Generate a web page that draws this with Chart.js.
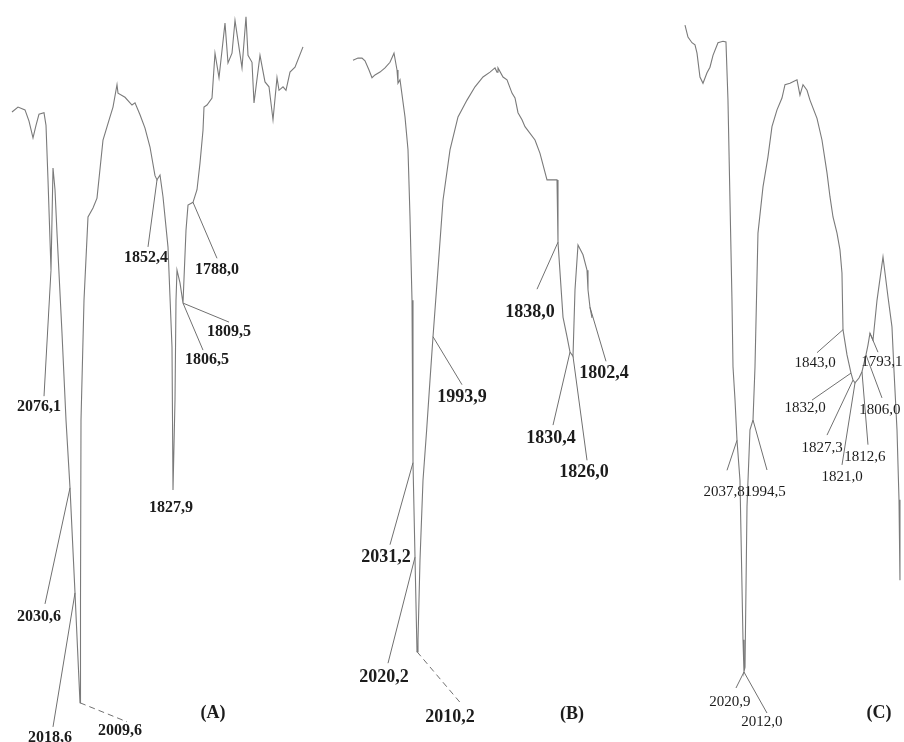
<!DOCTYPE html>
<html>
<head>
<meta charset="utf-8">
<script src="https://cdn.jsdelivr.net/npm/chart.js@4/dist/chart.umd.min.js"></script>
<style>
  body { margin: 0; background: #fff; }
  #wrap { position: relative; width: 904px; height: 742px; overflow: hidden; background: #fff; }
  .panel { position: absolute; top: 0; height: 742px; }
</style>
</head>
<body>
<div id="wrap">
  <div class="panel" style="left:0;width:320px"><canvas id="specA" width="320" height="742"></canvas></div>
  <div class="panel" style="left:320px;width:340px"><canvas id="specB" width="340" height="742"></canvas></div>
  <div class="panel" style="left:660px;width:244px"><canvas id="specC" width="244" height="742"></canvas></div>
</div>
<script>
// IR spectra (A), (B), (C): wavenumber in cm-1 against transmittance in %,
// read off the scanned figure.

const waveA = [2148, 2136, 2122, 2114, 2106, 2100, 2094, 2084, 2080, 2076, 2070, 2066, 2062, 2058, 2048, 2040, 2032, 2022, 2012, 2011,
  2010, 2004, 1996, 1986, 1978, 1966, 1952, 1946, 1938, 1936, 1922, 1908, 1902, 1892, 1882, 1872, 1862, 1858, 1852, 1846,
  1836, 1828, 1826, 1822, 1820, 1818, 1812, 1806, 1800, 1796, 1786, 1778, 1772, 1766, 1764, 1758, 1748, 1742, 1734, 1722,
  1716, 1708, 1702, 1688, 1680, 1676, 1668, 1664, 1652, 1642, 1634, 1626, 1618, 1614, 1606, 1600, 1592, 1582, 1566];
const transA = [84.0, 84.7, 84.3, 82.7, 80.3, 82.1, 83.7, 83.9, 82.1, 74.3, 61.4, 76.0, 72.9, 66.7, 52.4, 40.0, 30.3, 15.3, -0.4, 14.3,
  40.0, 57.1, 69.0, 70.3, 71.7, 80.0, 83.3, 84.7, 87.9, 86.7, 86.1, 85.0, 85.3, 83.6, 81.7, 79.0, 74.9, 74.3, 75.0, 71.9,
  64.7, 50.4, 30.0, 42.9, 57.1, 61.4, 59.6, 56.7, 67.1, 70.7, 71.1, 72.9, 76.7, 81.4, 84.7, 85.0, 86.0, 92.4, 88.9, 96.7,
  91.0, 92.4, 97.1, 90.3, 97.6, 92.1, 91.1, 85.3, 92.1, 88.3, 87.6, 82.9, 88.9, 87.1, 87.6, 87.1, 89.7, 90.4, 93.3];
const peaksA = ['2076,1', '2030,6', '2018,6', '2009,6', '1852,4', '1827,9', '1809,5', '1806,5', '1788,0'];
const peakAtA = [2070, 2032, 2022, 2012, 1858, 1826, 1806, 1806, 1786];

const waveB = [2086.4, 2080.4, 2075.6, 2072.0, 2067.2, 2063.6, 2060.0, 2054.0, 2048.0, 2042.0,
  2037.2, 2033.6, 2032.4, 2030.0, 2024.0, 2020.4, 2018.0, 2015.6, 2014.4, 2012.0,
  2009.6, 2008.4, 2006.0, 2002.4, 1998.0, 1994.0, 1990.4, 1985.6, 1978.4, 1970.0,
  1960.4, 1949.6, 1940.0, 1930.4, 1922.0, 1916.0, 1913.6, 1912.4, 1906.4, 1901.6,
  1895.6, 1892.0, 1888.4, 1883.6, 1880.0, 1868.0, 1862.0, 1853.6, 1841.6, 1840.4,
  1834.4, 1829.6, 1826.0, 1822.4, 1820.0, 1816.4, 1810.4, 1805.6, 1804.4, 1802.0, 1799.6];
const transB = [91.4, 91.7, 91.7, 91.3, 90.0, 88.9, 89.3, 89.7, 90.3, 91.1,
  92.4, 90.0, 88.1, 88.6, 83.3, 78.6, 69.0, 57.1, 33.9, 20.4,
  6.9, 8.6, 20.0, 31.4, 38.6, 45.7, 51.9, 59.6, 71.4, 78.6,
  83.3, 85.7, 87.6, 89.0, 89.7, 90.3, 89.7, 90.3, 89.0, 88.6,
  86.7, 86.0, 83.9, 82.9, 81.9, 80.0, 78.1, 74.3, 74.3, 65.4,
  54.7, 51.9, 49.7, 49.1, 58.6, 65.0, 63.6, 61.4, 58.6, 56.1, 54.6];
const peaksB = ['2031,2', '2020,2', '2010,2', '1993,9', '1838,0', '1830,4', '1826,0', '1802,4'];
const peakAtB = [2014.4, 2012.0, 2009.6, 1990.4, 1840.4, 1826.0, 1822.4, 1802.0];

const waveC = [2117.0, 2111.8, 2104.8, 2099.5, 2096.0, 2090.8, 2085.5, 2078.5, 2073.3, 2068.0,
  2059.3, 2050.5, 2045.3, 2041.8, 2038.3, 2034.8, 2033.0, 2029.5, 2026.0, 2020.8,
  2015.5, 2013.8, 2012.0, 2008.5, 2003.3, 1998.0, 1994.5, 1989.3, 1980.5, 1971.8,
  1964.8, 1956.0, 1947.3, 1942.0, 1933.3, 1921.0, 1915.8, 1910.5, 1903.5, 1898.3,
  1886.0, 1877.3, 1868.5, 1863.3, 1858.0, 1851.0, 1845.8, 1842.3, 1840.5, 1833.5,
  1826.5, 1823.0, 1819.5, 1812.5, 1807.3, 1800.3, 1796.8, 1793.3, 1788.0, 1781.0,
  1770.5, 1761.8, 1754.8, 1751.3, 1746.0, 1742.5, 1740.8];
const transC = [96.4, 94.7, 93.9, 93.6, 92.4, 89.0, 88.1, 89.6, 90.4, 92.1,
  93.9, 94.1, 94.0, 85.7, 71.4, 57.1, 47.6, 42.9, 37.1, 31.4,
  8.6, 4.0, 4.7, 27.6, 38.6, 40.0, 47.6, 66.7, 73.3, 77.6,
  81.9, 84.3, 86.0, 87.9, 88.1, 88.6, 86.4, 87.9, 87.1, 85.7,
  83.1, 80.0, 75.3, 71.9, 69.0, 66.7, 64.3, 61.0, 52.9, 49.3,
  46.7, 45.7, 45.3, 46.0, 46.9, 49.3, 50.7, 52.4, 51.4, 57.1,
  63.3, 57.6, 53.3, 47.1, 38.6, 28.6, 17.1];
const peaksC = ['2037,8', '1994,5', '2020,9', '2012,0', '1843,0', '1832,0', '1827,3', '1821,0', '1812,6', '1806,0', '1793,1'];
const peakAtC = [2026.0, 1998.0, 2013.8, 2013.8, 1840.5, 1826.5, 1823.0, 1819.5, 1807.3, 1800.3, 1793.3];

// leader line end (dx, dy) and label centre (dx, dy), in px from the marked point; 1 = dashed
const leadersA = [[-7, 126, -12, 137], [-25, 116, -31, 129], [-22, 134, -25, 145], [47, 19, 40, 28, 1],
  [-9, 67, -11, 78], [0, 0, -2, 18], [46, 19, 46, 29], [20, 47, 24, 57], [24, 56, 24, 68]];
const leadersB = [[-23, 82, -27, 95], [-27, 106, -31, 120], [45, 53, 33, 66, 1], [29, 48, 29, 61],
  [-21, 47, -28, 70], [-17, 73, -19, 86], [14, 104, 11, 116], [16, 54, 14, 66]];
const leadersC = [[-10, 30, -13, 52], [14, 50, 12, 72], [-8, 16, -14, 30], [23, 41, 18, 50],
  [-26, 23, -28, 33], [-39, 27, -46, 35], [-26, 55, -31, 68], [-13, 82, -13, 94],
  [6, 73, 3, 85], [16, 43, 14, 55], [8, 19, 12, 29]];

const panels = [
  { id: 'specA', waves: waveA, trans: transA, peaks: peaksA, at: peakAtA, leaders: leadersA,
    wMax: 2172, wMin: 1532, font: 'bold 16px "Liberation Serif"', title: '(A)', titleX: 213, titleY: 713 },
  { id: 'specB', waves: waveB, trans: transB, peaks: peaksB, at: peakAtB, leaders: leadersB,
    wMax: 2126, wMin: 1718, font: 'bold 18px "Liberation Serif"', title: '(B)', titleX: 252, titleY: 714 },
  { id: 'specC', waves: waveC, trans: transC, peaks: peaksC, at: peakAtC, leaders: leadersC,
    wMax: 2160.75, wMin: 1733.75, font: '15px "Liberation Serif"', title: '(C)', titleX: 219, titleY: 713 }
];

// draws the peak leaders, their values and the panel letter
function peakLabels(p) {
  return {
    id: 'peakLabels',
    afterDatasetsDraw(chart) {
      const ctx = chart.ctx;
      const x = chart.scales.x;
      const y = chart.scales.y;
      ctx.save();
      ctx.strokeStyle = '#707070';
      ctx.lineWidth = 1;
      ctx.fillStyle = '#1c1c1c';
      ctx.font = p.font;
      ctx.textAlign = 'center';
      ctx.textBaseline = 'middle';
      p.peaks.forEach((text, i) => {
        const k = p.waves.indexOf(p.at[i]);
        const px = x.getPixelForValue(p.waves[k]);
        const py = y.getPixelForValue(p.trans[k]);
        const [ex, ey, lx, ly, dashed] = p.leaders[i];
        if (ex || ey) {
          ctx.setLineDash(dashed ? [6, 4] : []);
          ctx.beginPath();
          ctx.moveTo(px, py);
          ctx.lineTo(px + ex, py + ey);
          ctx.stroke();
        }
        ctx.fillText(text, px + lx, py + ly);
      });
      ctx.setLineDash([]);
      ctx.font = 'bold 18px "Liberation Serif"';
      ctx.fillText(p.title, p.titleX, p.titleY);
      ctx.restore();
    }
  };
}

panels.forEach((p) => {
  new Chart(document.getElementById(p.id), {
    type: 'line',
    data: {
      datasets: [{
        data: p.waves.map((w, i) => ({ x: w, y: p.trans[i] })),
        borderColor: '#7a7a7a',
        borderWidth: 1.1,
        pointRadius: 0,
        tension: 0,
        fill: false
      }]
    },
    options: {
      responsive: false,
      animation: false,
      devicePixelRatio: 1,
      layout: { padding: 0 },
      scales: {
        x: { type: 'linear', reverse: true, min: p.wMin, max: p.wMax, display: false },
        y: { min: -6, max: 100, display: false }
      },
      plugins: { legend: { display: false }, tooltip: { enabled: false } }
    },
    plugins: [peakLabels(p)]
  });
});
</script>
</body>
</html>
